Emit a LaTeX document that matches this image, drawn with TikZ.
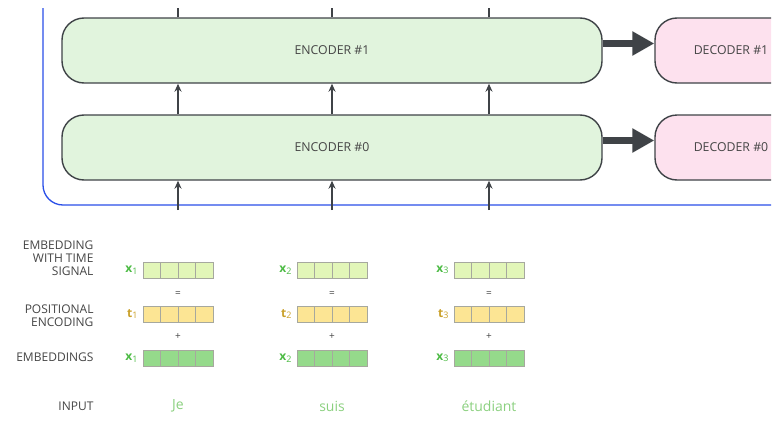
\documentclass[tikz,border=0pt]{standalone}
\usepackage{fontspec}
\setmainfont{Open Sans}
\usetikzlibrary{arrows.meta,positioning}

\definecolor{encfill}{HTML}{E1F4DD}
\definecolor{decfill}{HTML}{FDE1EE}
\definecolor{edgegray}{HTML}{3F4347}
\definecolor{textgray}{HTML}{454545}
\definecolor{frameblue}{HTML}{2A4FE8}
\definecolor{tsfill}{HTML}{E2F6B8}
\definecolor{pefill}{HTML}{FCE594}
\definecolor{embfill}{HTML}{95DA8B}
\definecolor{cellgray}{HTML}{A6A89E}
\definecolor{xgreen}{HTML}{4DBB45}
\definecolor{tbrown}{HTML}{C9A02A}
\definecolor{wordgreen}{HTML}{8BD07F}

\newcommand{\vsub}[2]{\textbf{#1}\raisebox{-1.5pt}{\fontsize{9}{9}\selectfont #2}}

\tikzset{
  block/.style={draw=edgegray, line width=1.4pt, rounded corners=22pt,
    minimum height=65pt, text=textgray, font=\fontsize{12.3}{14}\selectfont},
  bigarrow/.style={draw=edgegray, line width=7pt, -{Triangle[length=22pt,width=23pt]}},
  thinarrow/.style={draw=edgegray, line width=1.3pt, -{Stealth[length=8pt,width=7pt]}},
  cell/.style={draw=cellgray, line width=0.8pt, minimum width=17.5pt,
    minimum height=16pt, inner sep=0pt},
  rowlabel/.style={anchor=east, align=right, text=textgray,
    font=\fontsize{12}{13}\selectfont},
  veclabel/.style={inner sep=1pt, font=\fontsize{12}{13}\selectfont},
  sign/.style={text=textgray, font=\fontsize{10}{10}\selectfont}
}

\begin{document}
\begin{tikzpicture}[x=1pt,y=-1pt]
  \useasboundingbox (0,0) rectangle (776,423);

  % Blue frame round the encoder stack
  \draw[frameblue, line width=1.3pt, rounded corners=20pt] (43,8) -- (43,205) -- (771,205);

  % Encoders and decoders
  \node[block, fill=encfill, minimum width=540pt] (enc1) at (332,50.5) {ENCODER \#1};
  \node[block, fill=encfill, minimum width=540pt] (enc0) at (332,147.5) {ENCODER \#0};
  \begin{scope}
    \clip (0,0) rectangle (771,423);
    \node[block, fill=decfill, minimum width=152pt] (dec1) at (731,50.5) {DECODER \#1};
    \node[block, fill=decfill, minimum width=152pt] (dec0) at (731,147.5) {DECODER \#0};
  \end{scope}
  \foreach \i in {0,1} {
    \draw[bigarrow] ([yshift=7pt]enc\i.east) -- ([yshift=7pt]dec\i.west);
  }

  % Row names
  \node[rowlabel] (tsname) at (97,258) {EMBEDDING\\WITH TIME\\SIGNAL};
  \node[rowlabel] (pename) at (97,315.5) {POSITIONAL\\ENCODING};
  \node[rowlabel] (embname) at (97,357) {EMBEDDINGS};
  \node[rowlabel] (inname) at (97,406) {INPUT};

  % One column per input word
  \foreach \c/\cx/\word in {1/178/Je, 2/332/suis, 3/489/étudiant} {
    \coordinate (in\c) at (\cx,210);
    \coordinate (top\c) at (\cx,8);
    \draw[thinarrow] (in\c) -- (in\c |- enc0.south);
    \draw[thinarrow] (enc0.north -| in\c) -- (enc1.south -| in\c);
    \draw[edgegray, line width=1.3pt] (enc1.north -| top\c) -- (top\c);

    \foreach \k in {1,...,4} {
      \pgfmathsetmacro\px{\cx-43.75+17.5*\k}
      \node[cell, fill=tsfill] (ts\c-\k) at (\px,270) {};
      \node[cell, fill=pefill] (pe\c-\k) at (\px,314) {};
      \node[cell, fill=embfill] (emb\c-\k) at (\px,358) {};
    }
    \node[veclabel, text=xgreen, left=4pt of ts\c-1] (tsx\c) {\vsub{x}{\c}};
    \node[veclabel, text=tbrown, left=4pt of pe\c-1] (pet\c) {\vsub{t}{\c}};
    \node[veclabel, text=xgreen, left=4pt of emb\c-1] (embx\c) {\vsub{x}{\c}};
    \node[sign] (eq\c) at (\cx,294) {=};
    \node[sign] (plus\c) at (\cx,337) {+};
    \node[text=wordgreen, font=\fontsize{14}{16}\selectfont] (word\c) at (\cx,406) {\word};
  }
\end{tikzpicture}
\end{document}
